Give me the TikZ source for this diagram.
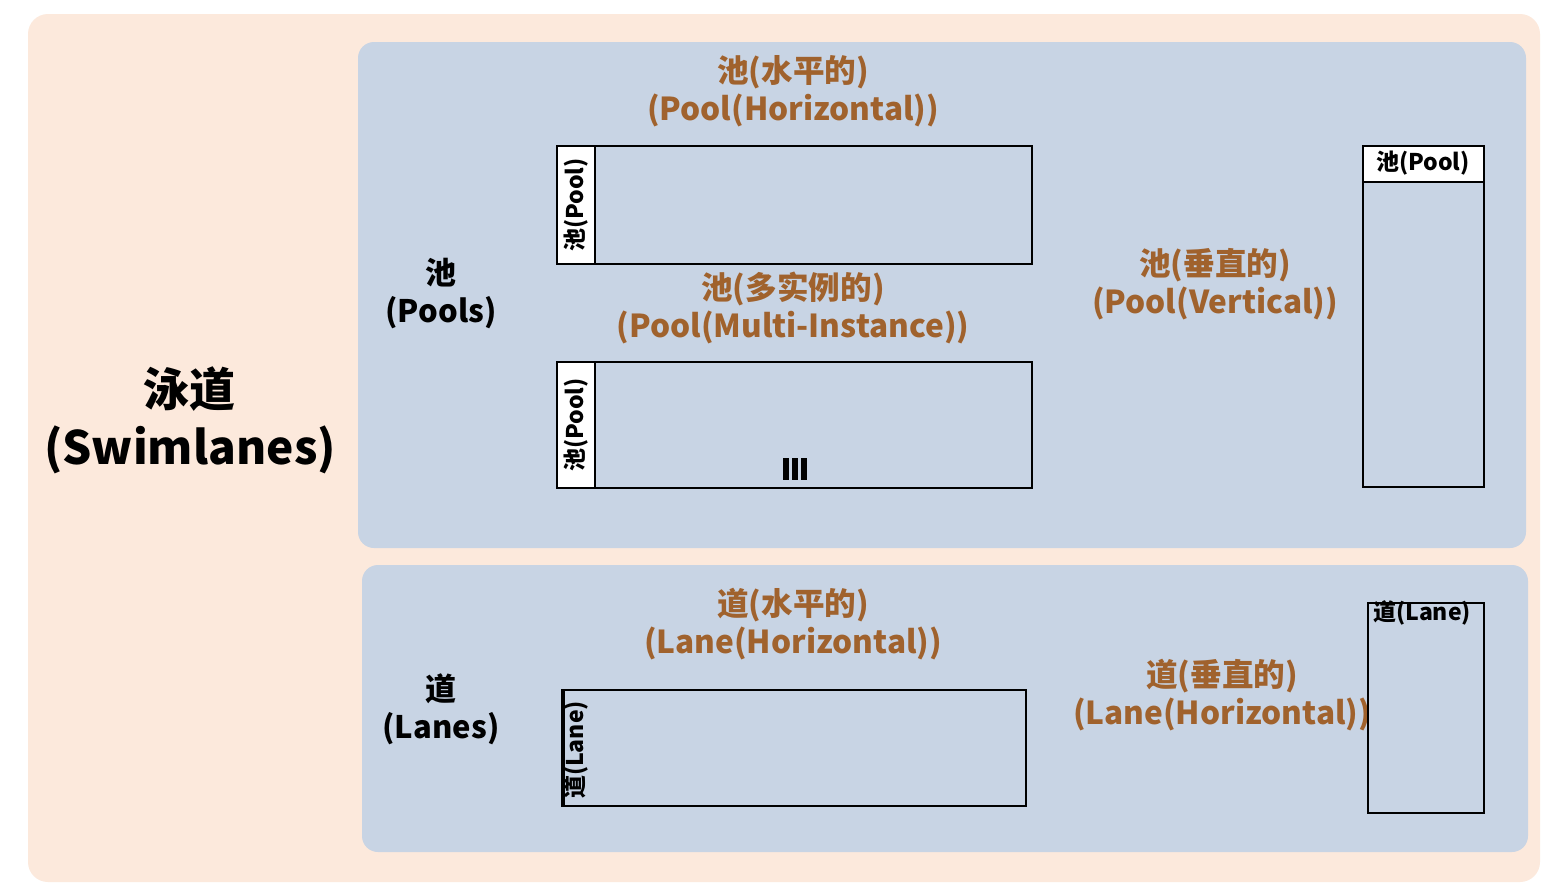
\documentclass[tikz,border=0pt]{standalone}
\usepackage{fontspec}
\setmainfont{Noto Sans CJK SC}
\definecolor{peach}{HTML}{FCE9DC}
\definecolor{panel}{HTML}{C8D4E4}
\definecolor{brown}{HTML}{A0622D}
\tikzset{
  px/.style={x=0.5pt,y=-0.5pt},
  outerpanel/.style={fill=peach,draw=none,rounded corners=10pt},
  innerpanel/.style={fill=panel,draw=none,rounded corners=8pt},
  bigtitle/.style={font=\fontsize{23}{29}\selectfont\bfseries,align=center,inner sep=0pt},
  grouptitle/.style={font=\fontsize{15.5}{19}\selectfont\bfseries,align=center,inner sep=0pt},
  browntitle/.style={font=\fontsize{15.8}{19}\selectfont\bfseries,text=brown,align=center,inner sep=0pt},
  poolbox/.style={draw=black,line width=1pt,fill=panel},
  headbox/.style={draw=black,line width=1pt,fill=white},
  smalltext/.style={font=\fontsize{11.5}{12}\selectfont\bfseries,inner sep=0pt},
}
\begin{document}
\begin{tikzpicture}[px]
\useasboundingbox (0,0) rectangle (1554,894);
\fill[white] (0,0) rectangle (1554,894);
% panels
\path[outerpanel] (28,14) rectangle (1540,882);
\path[innerpanel] (358,42) rectangle (1526,548);
\path[innerpanel] (362,565) rectangle (1528,852);
% main title
\node[bigtitle] (swim) at (190,420) {泳道\\(Swimlanes)};
\node[grouptitle] (pools) at (441,294) {池\\(Pools)};
\node[grouptitle] (lanes) at (441,709) {道\\(Lanes)};
% brown labels
\node[browntitle] (phl) at (793,91) {池(水平的)\\(Pool(Horizontal))};
\node[browntitle] (pmil) at (793,308) {池(多实例的)\\(Pool(Multi-Instance))};
\node[browntitle] (pvl) at (1215,284) {池(垂直的)\\(Pool(Vertical))};
\node[browntitle] (lhl) at (793,624) {道(水平的)\\(Lane(Horizontal))};
\node[browntitle] (lvl) at (1222,695) {道(垂直的)\\(Lane(Horizontal))};
% pool horizontal
\draw[poolbox] (557,146) rectangle (1032,264);
\draw[headbox] (557,146) rectangle (595,264);
\node[smalltext,rotate=90] (phh) at (576,205) {池(Pool)};
% pool multi-instance
\draw[poolbox] (557,362) rectangle (1032,488);
\draw[headbox] (557,362) rectangle (595,488);
\node[smalltext,rotate=90] (pmh) at (576,425) {池(Pool)};
\foreach \xx in {786,795,804}
  \fill[black] (\xx-3,458) rectangle (\xx+3,480);
% pool vertical
\draw[poolbox] (1363,146) rectangle (1484,487);
\draw[headbox] (1363,146) rectangle (1484,182);
\node[smalltext] (pvh) at (1423,163) {池(Pool)};
% lane horizontal
\draw[poolbox] (562,690) rectangle (1026,806);
\draw[black,line width=1.5pt] (563,690) -- (563,806);
\node[smalltext,rotate=90] (lhh) at (576,750) {道(Lane)};
% lane vertical
\draw[poolbox] (1368,603) rectangle (1484,813);
\node[smalltext] (lvh) at (1422,613) {道(Lane)};
\end{tikzpicture}
\end{document}
